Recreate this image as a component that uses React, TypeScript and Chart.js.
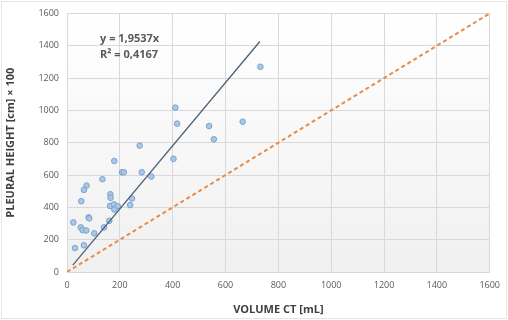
import React, { useEffect, useRef } from "react";
import { Chart, registerables } from "chart.js";

Chart.register(...registerables);

const volumeCT = [732, 410, 417, 538, 665, 556, 275, 403, 179, 208, 215, 283, 319, 134, 74, 64, 164, 165, 54, 246, 239, 163, 178, 192, 179, 24, 82, 84, 160, 52, 59, 73, 103, 140, 64, 30];
const pleuralHeight = [1270, 1017, 918, 903, 930, 821, 782, 700, 687, 617, 617, 617, 591, 574, 535, 508, 481, 459, 438, 455, 414, 409, 418, 407, 387, 307, 338, 332, 317, 276, 259, 257, 239, 276, 165, 148];
const trendX = [22, 730];
const slope = 1.9537;
const identityX = [0, 1600];
const axisTicks = [0, 200, 400, 600, 800, 1000, 1200, 1400, 1600];
const equationLines = ["y = 1,9537x", "R² = 0,4167"];

export default function App() {
  const ref = useRef<HTMLCanvasElement>(null);
  useEffect(() => {
    if (!ref.current) return;
    const bgPlugin = {
      id: "bg",
      beforeDraw(chart: any) {
        const { ctx, chartArea: a } = chart;
        ctx.save();
        ctx.fillStyle = "#ffffff";
        ctx.fillRect(0, 0, chart.width, chart.height);
        const g = ctx.createLinearGradient(0, a.top, 0, a.bottom);
        g.addColorStop(0, "#ffffff");
        g.addColorStop(1, "#f0f0f0");
        ctx.fillStyle = g;
        ctx.fillRect(a.left, a.top, a.right - a.left, a.bottom - a.top);
        ctx.strokeStyle = "#e6e6e6";
        ctx.lineWidth = 1;
        ctx.strokeRect(1.5, 1.5, chart.width - 3, chart.height - 3);
        ctx.restore();
      },
      afterDatasetsDraw(chart: any) {
        const { ctx } = chart;
        const xs = chart.scales.x;
        const ys = chart.scales.y;
        ctx.save();
        ctx.font = "bold 11px 'Open Sans', 'DejaVu Sans', sans-serif";
        ctx.fillStyle = "#595959";
        ctx.textBaseline = "middle";
        ctx.textAlign = "left";
        const x0 = xs.getPixelForValue(125);
        ctx.fillText(equationLines[0], x0, ys.getPixelForValue(1445));
        ctx.fillText(equationLines[1], x0, ys.getPixelForValue(1345));
        ctx.restore();
      },
    };
    const fmt = (v: any) => String(v);
    const chart = new Chart(ref.current, {
      type: "scatter",
      data: {
        datasets: [
          {
            type: "line",
            data: identityX.map((x) => ({ x, y: x })),
            borderColor: "#e98a45",
            borderWidth: 2,
            borderDash: [4, 3],
            pointRadius: 0,
            fill: false,
          },
          {
            type: "line",
            data: trendX.map((x) => ({ x, y: slope * x })),
            borderColor: "#4d5f77",
            borderWidth: 1.3,
            pointRadius: 0,
            fill: false,
          },
          {
            data: volumeCT.map((x, i) => ({ x, y: pleuralHeight[i] })),
            backgroundColor: "#a9c8e6",
            borderColor: "#7ba2cf",
            borderWidth: 1,
            pointRadius: 2.8,
          },
        ],
      },
      options: {
        animation: false,
        responsive: false,
        layout: { padding: { left: 0, top: 13, right: 17, bottom: 0 } },
        plugins: { legend: { display: false }, tooltip: { enabled: false } },
        scales: {
          x: {
            type: "linear",
            min: 0,
            max: 1600,
            afterBuildTicks: (s: any) => {
              s.ticks = axisTicks.map((v) => ({ value: v }));
            },
            afterFit: (s: any) => {
              s.height = 48;
            },
            grid: { color: "#d9d9d9", drawTicks: false },
            border: { color: "#d9d9d9" },
            ticks: {
              padding: 8,
              color: "#595959",
              callback: fmt,
              font: { size: 9, family: "'Open Sans', 'DejaVu Sans', sans-serif" },
            },
            title: {
              display: true,
              text: "VOLUME CT [mL]",
              color: "#404040",
              padding: { top: 6 },
              font: { size: 11, weight: "bold", family: "'Open Sans', 'DejaVu Sans', sans-serif" },
            },
          },
          y: {
            type: "linear",
            min: 0,
            max: 1600,
            afterBuildTicks: (s: any) => {
              s.ticks = axisTicks.map((v) => ({ value: v }));
            },
            afterFit: (s: any) => {
              s.width = 67;
            },
            grid: { color: "#d9d9d9", drawTicks: false },
            border: { color: "#d9d9d9" },
            ticks: {
              padding: 8,
              color: "#595959",
              callback: fmt,
              font: { size: 9, family: "'Open Sans', 'DejaVu Sans', sans-serif" },
            },
            title: {
              display: true,
              text: "PLEURAL HEIGHT [cm] × 100",
              color: "#404040",
              padding: { bottom: 4 },
              font: { size: 11, weight: "bold", family: "'Open Sans', 'DejaVu Sans', sans-serif" },
            },
          },
        },
      },
      plugins: [bgPlugin],
    } as any);
    return () => chart.destroy();
  }, []);
  return (
    <div style={{ position: "fixed", left: 0, top: 0, width: 508, height: 320 }}>
      <canvas ref={ref} width={508} height={320} style={{ width: 508, height: 320 }} />
    </div>
  );
}
